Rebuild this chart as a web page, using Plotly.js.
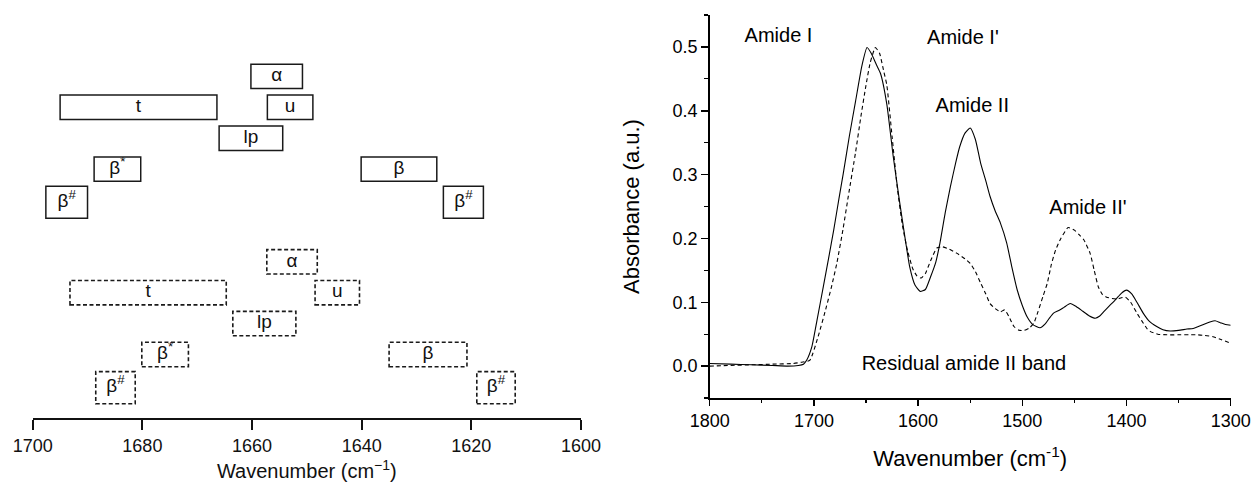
<!DOCTYPE html>
<html>
<head>
<meta charset="utf-8">
<script src="https://cdn.plot.ly/plotly-3.0.1.min.js"></script>
<style>
html,body{margin:0;padding:0;background:#fff;}
#chart{width:1257px;height:486px;}
</style>
</head>
<body>
<div id="chart"></div>
<script>
// ---------- Left panel: band assignment ranges (cm-1) ----------
const boxLabels = ['α', 't', 'u', 'lp', 'β<sup>*</sup>', 'β<sup>#</sup>', 'β', 'β<sup>#</sup>'];
// group I (solid boxes)
const solidStart = [1660.2, 1695.0, 1657.2, 1666.0, 1688.8, 1697.6, 1640.1, 1625.1];
const solidEnd   = [1650.8, 1666.4, 1648.9, 1654.4, 1680.3, 1690.0, 1626.3, 1617.8];
const solidRow   = [11, 10, 10, 9, 8, 7, 8, 7];
// group II (dashed boxes)
const dashStart = [1657.3, 1693.2, 1648.5, 1663.5, 1680.1, 1688.5, 1635.0, 1619.0];
const dashEnd   = [1648.1, 1664.7, 1640.4, 1652.0, 1671.6, 1681.3, 1620.8, 1612.0];
const dashRow   = [5, 4, 4, 3, 2, 1, 2, 1];
const leftTicks = [1700, 1680, 1660, 1640, 1620, 1600];

// ---------- Right panel: spectra ----------
const wnSolid = [1800,1780,1760,1740,1725,1715,1710,1707,1702,1697,1691,1686,1681,1676,1672,1666,1660,1654,1649,1645,1640,1636,1630,1624,1618,1612,1608,1603,1598,1593,1588,1583,1579,1574,1569,1564,1560,1555,1550,1545,1540,1535,1531,1526,1521,1515,1510,1505,1500,1495,1490,1483,1478,1474,1470,1465,1460,1454,1448,1442,1436,1430,1426,1422,1416,1410,1405,1400,1395,1390,1384,1378,1371,1365,1358,1350,1342,1336,1328,1320,1315,1310,1305,1300];
const absSolid = [0.004,0.003,0.002,0.001,0.000,0.001,0.003,0.009,0.030,0.072,0.124,0.168,0.213,0.262,0.300,0.360,0.415,0.470,0.499,0.490,0.472,0.458,0.410,0.330,0.260,0.195,0.155,0.127,0.117,0.120,0.140,0.163,0.193,0.240,0.281,0.318,0.344,0.365,0.373,0.355,0.318,0.290,0.266,0.243,0.224,0.193,0.155,0.120,0.095,0.076,0.065,0.060,0.066,0.075,0.083,0.087,0.092,0.098,0.093,0.086,0.079,0.075,0.078,0.085,0.095,0.105,0.114,0.119,0.113,0.100,0.083,0.070,0.062,0.057,0.055,0.056,0.058,0.059,0.064,0.069,0.071,0.068,0.065,0.064];
const wnDash = [1800,1780,1760,1740,1720,1712,1704,1696,1688,1683,1678,1672,1667,1660,1655,1650,1646,1641,1637,1633,1630,1625,1620,1615,1610,1605,1601,1597,1593,1588,1582,1577,1570,1563,1555,1550,1545,1540,1535,1531,1526,1521,1517,1513,1508,1503,1498,1493,1489,1485,1480,1476,1472,1468,1463,1456,1450,1445,1441,1435,1431,1427,1423,1419,1414,1409,1405,1401,1396,1390,1385,1380,1377,1370,1361,1350,1340,1333,1325,1317,1310,1300];
const absDash = [0.000,0.001,0.002,0.003,0.004,0.006,0.009,0.046,0.093,0.125,0.161,0.215,0.266,0.335,0.390,0.440,0.475,0.499,0.490,0.462,0.440,0.360,0.280,0.220,0.180,0.152,0.141,0.138,0.145,0.165,0.185,0.187,0.183,0.177,0.168,0.161,0.148,0.130,0.113,0.098,0.090,0.085,0.088,0.078,0.062,0.056,0.056,0.060,0.067,0.085,0.110,0.130,0.160,0.182,0.200,0.217,0.213,0.205,0.198,0.177,0.150,0.124,0.112,0.108,0.106,0.105,0.107,0.108,0.100,0.083,0.070,0.058,0.054,0.050,0.049,0.049,0.049,0.049,0.048,0.046,0.042,0.036];

const bandLabels = ['Amide I', "Amide I'", 'Amide II', "Amide II'", 'Residual amide II band'];
const bandLabelWn = [1734, 1557, 1548, 1437, 1556];
const bandLabelAbs = [0.516, 0.513, 0.406, 0.246, 0.002];

// ---------- build ----------
const FONT = 'Arial, "Liberation Sans", Helvetica, sans-serif';
const shapes = [];
const labX = [], labY = [], labT = [];
function halfHeights(label) {
  return label.indexOf('#') >= 0 ? [0.60, 0.44] : [0.40, 0.39];
}
function addBoxes(starts, ends, rows, dash) {
  for (let i = 0; i < boxLabels.length; i++) {
    const hh = halfHeights(boxLabels[i]);
    const y0 = rows[i] - hh[0], y1 = rows[i] + hh[1];
    shapes.push({
      type: 'rect', xref: 'x', yref: 'y',
      x0: starts[i], x1: ends[i], y0: y0, y1: y1,
      line: {color: '#1a1a1a', width: dash ? 1.6 : 1.5, dash: dash ? '4px,2.5px' : 'solid'},
      fillcolor: 'rgba(0,0,0,0)'
    });
    labX.push((starts[i] + ends[i]) / 2);
    labY.push((y0 + y1) / 2);
    labT.push(boxLabels[i]);
  }
}
addBoxes(solidStart, solidEnd, solidRow, false);
addBoxes(dashStart, dashEnd, dashRow, true);

const traces = [
  {x: labX, y: labY, text: labT, xaxis: 'x', yaxis: 'y', type: 'scatter', mode: 'text',
   textposition: 'middle center', textfont: {family: FONT, size: 19, color: '#111'},
   hoverinfo: 'skip', showlegend: false, cliponaxis: false},
  {x: wnSolid, y: absSolid, xaxis: 'x2', yaxis: 'y2', type: 'scatter', mode: 'lines',
   line: {color: '#000', width: 1.1, shape: 'spline', smoothing: 0.5}, showlegend: false},
  {x: wnDash, y: absDash, xaxis: 'x2', yaxis: 'y2', type: 'scatter', mode: 'lines',
   line: {color: '#000', width: 1.1, dash: '4px,3px', shape: 'spline', smoothing: 0.5}, showlegend: false},
  {x: bandLabelWn, y: bandLabelAbs, text: bandLabels, xaxis: 'x2', yaxis: 'y2', type: 'scatter', mode: 'text',
   textposition: 'middle center', textfont: {family: FONT, size: 20, color: '#000'},
   hoverinfo: 'skip', showlegend: false, cliponaxis: false}
];

const layout = {
  width: 1257, height: 486,
  margin: {l: 0, r: 0, t: 0, b: 0},
  paper_bgcolor: '#fff', plot_bgcolor: 'rgba(0,0,0,0)',
  showlegend: false,
  font: {family: FONT, color: '#000'},
  xaxis: {
    domain: [32.7 / 1257, 581 / 1257], anchor: 'y',
    range: [1700, 1600], tickmode: 'array', tickvals: leftTicks,
    ticks: 'outside', ticklen: 10, tickwidth: 2, tickcolor: '#111',
    showline: true, linewidth: 2, linecolor: '#111',
    showgrid: false, zeroline: false,
    tickfont: {family: FONT, size: 18, color: '#111'},
    title: {text: 'Wavenumber (cm<sup>−1</sup>)', font: {family: FONT, size: 20, color: '#111'}, standoff: 9},
    automargin: false, fixedrange: true
  },
  yaxis: {
    domain: [1 - 418.3 / 486, 1], anchor: 'x',
    range: [-0.07, 13.467], visible: false, fixedrange: true
  },
  xaxis2: {
    domain: [709.7 / 1257, 1230.7 / 1257], anchor: 'y2',
    range: [1800, 1300], tick0: 1300, dtick: 100,
    ticks: 'outside', ticklen: 6, tickwidth: 1.5, tickcolor: '#000',
    minor: {ticks: 'outside', dtick: 50, tick0: 1300, ticklen: 3, tickwidth: 1.2, tickcolor: '#000'},
    showline: true, linewidth: 1.5, linecolor: '#000',
    showgrid: false, zeroline: false,
    tickfont: {family: FONT, size: 18, color: '#000'},
    title: {text: 'Wavenumber (cm<sup>-1</sup>)', font: {family: FONT, size: 22, color: '#000'}, standoff: 20},
    automargin: false, fixedrange: true
  },
  yaxis2: {
    domain: [1 - 398 / 486, 1 - 15 / 486], anchor: 'x2',
    range: [-0.05, 0.55], tick0: 0, dtick: 0.1, tickformat: '.1f',
    ticks: 'outside', ticklen: 7, tickwidth: 1.5, tickcolor: '#000',
    minor: {ticks: 'outside', dtick: 0.05, tick0: 0, ticklen: 4, tickwidth: 1.2, tickcolor: '#000'},
    showline: true, linewidth: 1.5, linecolor: '#000',
    showgrid: false, zeroline: false,
    tickfont: {family: FONT, size: 18, color: '#000'},
    title: {text: 'Absorbance (a.u.)', font: {family: FONT, size: 22, color: '#000'}, standoff: 27},
    automargin: false, fixedrange: true
  },
  shapes: shapes
};

Plotly.newPlot('chart', traces, layout, {displayModeBar: false, staticPlot: true});
</script>
</body>
</html>
